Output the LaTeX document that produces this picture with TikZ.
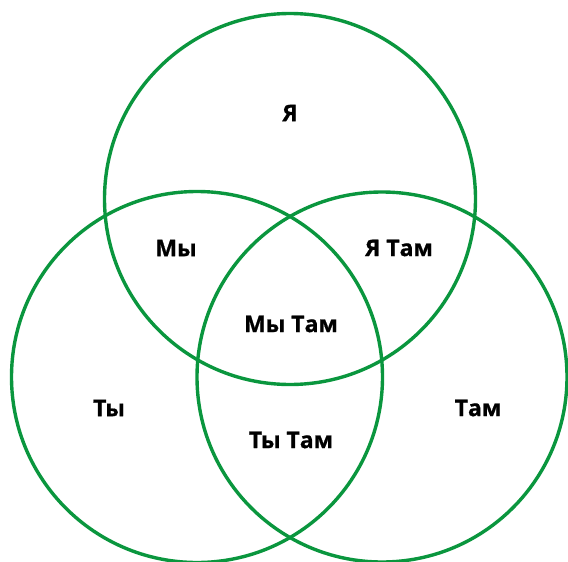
\documentclass[tikz,border=0pt]{standalone}
\usepackage{fontspec}
\newfontfamily\lblfont[BoldFeatures={FakeBold=0.8}]{Open Sans}
\definecolor{venngreen}{RGB}{10,150,62}
\begin{document}
\begin{tikzpicture}[x=1pt,y=-1pt,
  ring/.style={draw=venngreen,line width=3.4pt},
  lbl/.style={font=\lblfont\fontsize{23}{27}\selectfont\bfseries,text=black}]
\useasboundingbox (0,0) rectangle (568,562);
\draw[ring] (290,199) circle (185.5);
\draw[ring] (197,377) circle (185.5);
\draw[ring] (382,377) circle (185);
\node[lbl] (ya) at (290,113) {Я};
\node[lbl] (my) at (176,248) {Мы};
\node[lbl] (yatam) at (399,248) {Я Там};
\node[lbl] (mytam) at (291,324) {Мы Там};
\node[lbl] (ty) at (109,408) {Ты};
\node[lbl] (tytam) at (291,440) {Ты Там};
\node[lbl] (tam) at (478,408) {Там};
\end{tikzpicture}
\end{document}
